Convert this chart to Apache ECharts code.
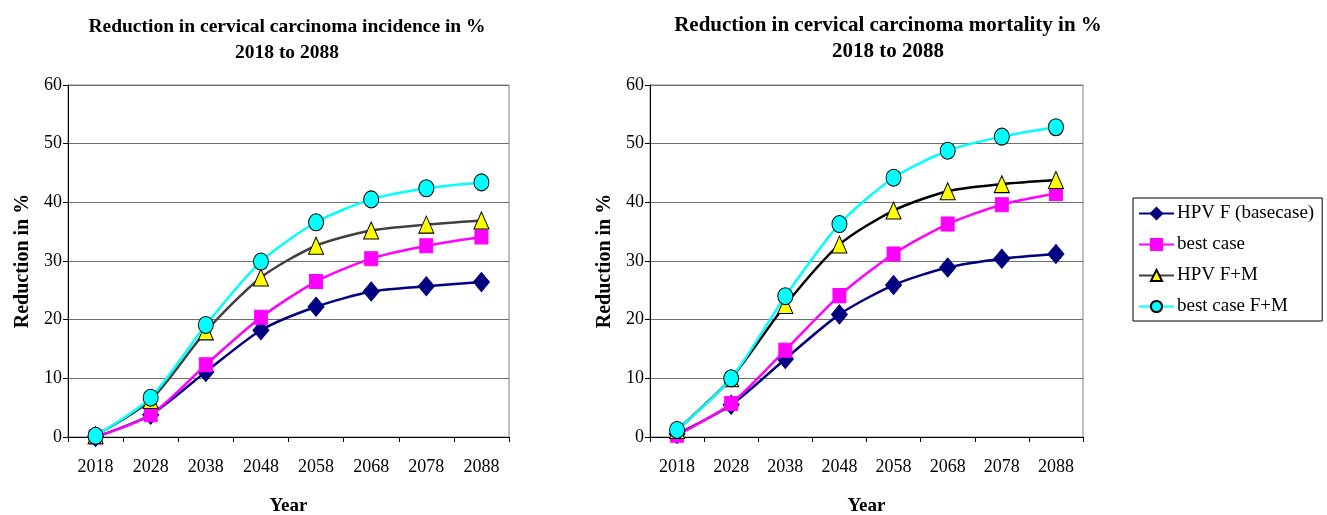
<!DOCTYPE html>
<html>
<head>
<meta charset="utf-8">
<script src="https://cdn.jsdelivr.net/npm/echarts@6/dist/echarts.min.js"></script>
<style>
  html, body { margin: 0; padding: 0; background: #fff; }
  #main { width: 1327px; height: 515px; }
</style>
</head>
<body>
<div id="main"></div>
<script>
// years on the x axis
var years = ['2018', '2028', '2038', '2048', '2058', '2068', '2078', '2088']

// incidence reduction (left chart)
var incHpvF = [0, 3.8, 11.1, 18.2, 22.2, 24.8, 25.7, 26.4]
var incBest = [0, 3.8, 12.3, 20.4, 26.5, 30.4, 32.6, 34.1]
var incHpvFM = [0.3, 6.3, 18.0, 27.2, 32.6, 35.2, 36.2, 36.9]
var incBestFM = [0.2, 6.7, 19.1, 29.9, 36.6, 40.5, 42.4, 43.4]

// mortality reduction (right chart)
var morHpvF = [0.5, 5.5, 13.3, 20.9, 25.9, 28.9, 30.4, 31.2]
var morBest = [0.3, 5.7, 14.8, 24.1, 31.2, 36.3, 39.6, 41.5]
var morHpvFM = [1.2, 10.0, 22.5, 32.8, 38.6, 41.9, 43.1, 43.8]
var morBestFM = [1.2, 10.0, 24.0, 36.3, 44.2, 48.8, 51.2, 52.8]

var yTicks = { min: 0, max: 60, interval: 10 }
var serif = 'Liberation Serif'

var names = ['HPV F (basecase)', 'best case', 'HPV F+M', 'best case F+M']

// 线条和标记样式
function styleFor(i) {
  var s = [
    { color: '#000080', symbol: 'diamond', size: [16, 19], border: '#000080' },
    { color: '#FF00FF', symbol: 'rect', size: [13, 14], border: '#FF00FF' },
    { color: '#000000', symbol: 'triangle', size: [15, 17], border: '#000000', fill: '#FFFF00' },
    { color: '#00FFFF', symbol: 'circle', size: [15, 17], border: '#000000', fill: '#00FFFF' },
  ][i]
  return s
}

function makeSeries(idx, data, gridIndex) {
  var s = styleFor(idx)
  return {
    name: names[idx],
    type: 'line',
    xAxisIndex: gridIndex,
    yAxisIndex: gridIndex,
    data: data,
    smooth: 0.25,
    symbol: s.symbol,
    symbolSize: s.size,
    lineStyle: { color: gridIndex === 0 && idx === 2 ? '#404040' : s.color, width: 2.5 },
    itemStyle: { color: s.fill || s.color, borderColor: s.border, borderWidth: 1 },
    z: 2 + idx,
  }
}

function xAxisFor(gridIndex) {
  return {
    type: 'category',
    gridIndex: gridIndex,
    data: years,
    boundaryGap: true,
    name: 'Year',
    nameLocation: 'middle',
    nameGap: 60,
    nameTextStyle: { fontFamily: serif, fontSize: 19, fontWeight: 'bold', color: '#000' },
    axisLine: { lineStyle: { color: '#000', width: 1 } },
    axisTick: { show: true, alignWithLabel: false, length: 5, lineStyle: { color: '#000' } },
    axisLabel: { fontFamily: serif, fontSize: 18, color: '#000', margin: 21 },
  }
}

function yAxisFor(gridIndex) {
  return {
    type: 'value',
    gridIndex: gridIndex,
    min: yTicks.min,
    max: yTicks.max,
    interval: yTicks.interval,
    name: 'Reduction in %',
    nameLocation: 'middle',
    nameGap: 35,
    nameTextStyle: { fontFamily: serif, fontSize: 20, fontWeight: 'bold', color: '#000' },
    axisLine: { show: true, lineStyle: { color: '#000', width: 1 } },
    axisTick: { show: true, length: 5, lineStyle: { color: '#000' } },
    axisLabel: { fontFamily: serif, fontSize: 18, color: '#000', margin: 6 },
    splitLine: { show: true, lineStyle: { color: '#6e6e6e', width: 1 } },
  }
}

var myChart = echarts.init(document.getElementById('main'))

var titleStyle = { fontFamily: serif, fontSize: 19.5, fontWeight: 'bold', color: '#000', lineHeight: 26 }

var option = {
  backgroundColor: '#fff',
  animation: false,
  title: [
    {
      text: 'Reduction in cervical carcinoma incidence in %\n2018 to 2088',
      left: 282,
      top: 9,
      textAlign: 'center',
      textStyle: titleStyle,
    },
    {
      text: 'Reduction in cervical carcinoma mortality in %\n2018 to 2088',
      left: 883,
      top: 8,
      textAlign: 'center',
      textStyle: Object.assign({}, titleStyle, { fontSize: 21 }),
    },
  ],
  legend: {
    orient: 'vertical',
    left: 1133,
    top: 198,
    width: 189,
    data: names,
    itemWidth: 35,
    itemHeight: 14,
    itemGap: 12,
    padding: [6, 8, 5, 5],
    borderColor: '#000',
    borderWidth: 1,
    textStyle: { fontFamily: serif, fontSize: 19, color: '#000', padding: [0, 0, 0, -2] },
  },
  grid: [
    { left: 68, top: 85, width: 441, height: 352, show: true, borderColor: '#808080', borderWidth: 1, outerBoundsMode: 'none', containLabel: false },
    { left: 650, top: 85, width: 433, height: 352, show: true, borderColor: '#808080', borderWidth: 1, outerBoundsMode: 'none', containLabel: false },
  ],
  xAxis: [xAxisFor(0), xAxisFor(1)],
  yAxis: [yAxisFor(0), yAxisFor(1)],
  series: [
    makeSeries(0, incHpvF, 0),
    makeSeries(1, incBest, 0),
    makeSeries(2, incHpvFM, 0),
    makeSeries(3, incBestFM, 0),
    makeSeries(0, morHpvF, 1),
    makeSeries(1, morBest, 1),
    makeSeries(2, morHpvFM, 1),
    makeSeries(3, morBestFM, 1),
  ],
}

myChart.setOption(option)
</script>
</body>
</html>
